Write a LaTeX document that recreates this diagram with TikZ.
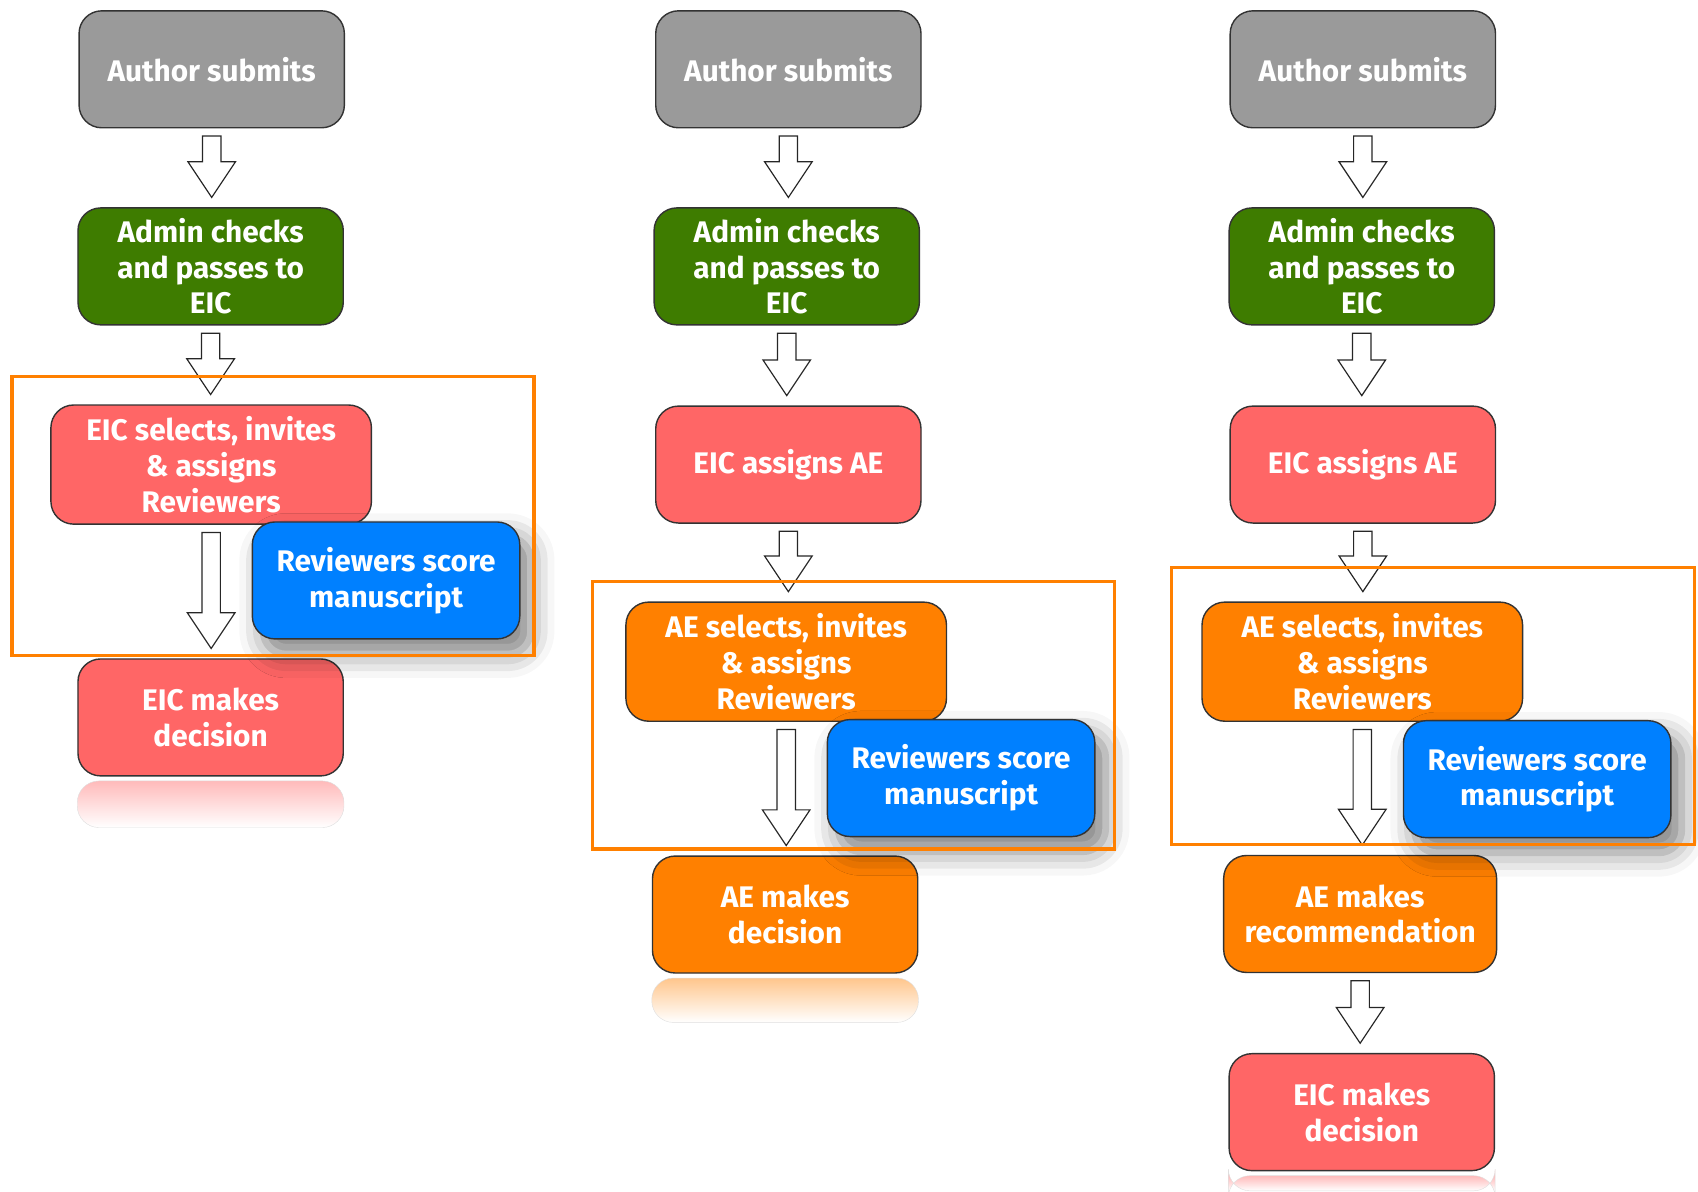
\documentclass[tikz,border=0pt]{standalone}
\usepackage{fontspec}
\setmainfont{Fira Sans}
\usepackage{tikz}
\usetikzlibrary{calc,shadows.blur}
\definecolor{boxgray}{HTML}{9A9A9A}
\definecolor{boxgreen}{HTML}{3E7C00}
\definecolor{boxred}{HTML}{FF6666}
\definecolor{boxorange}{HTML}{FF8000}
\definecolor{boxblue}{HTML}{0080FF}
\definecolor{framecol}{HTML}{FF8000}

% hollow block arrow from one node to the next
\newcommand{\blockarrow}[2]{%
  \draw[blockarr] let \p1=(#1.south), \p2=(#2.north) in
    (\x1-8.5pt,\y1-7pt) -- (\x1+8.5pt,\y1-7pt) -- (\x1+8.5pt,\y2+42pt)
    -- (\x1+22pt,\y2+42pt) -- (\x1,\y2+9pt) -- (\x1-22pt,\y2+42pt)
    -- (\x1-8.5pt,\y2+42pt) -- cycle;}
% faded mirror under the last box
\newcommand{\reflect}[3]{%
  \shade[top color=#2!45!white, bottom color=white, draw=gray!25,
         rounded corners=20pt]
    ($(#1.south west)+(0,-4pt)$) -- ($(#1.south west)+(0,-#3)$)
    -- ($(#1.south east)+(0,-#3)$) -- ($(#1.south east)+(0,-4pt)$) -- cycle;}

\begin{document}
\begin{tikzpicture}[x=1pt, y=-1pt,
  box/.style={draw=black!80, line width=1.3pt, rounded corners=21pt,
              minimum width=245pt, minimum height=108pt, inner sep=0pt,
              text=white, align=center,
              font=\fontsize{27.5}{33}\selectfont\bfseries},
  widebox/.style={box, minimum width=296pt, minimum height=110pt},
  revbox/.style={box, fill=boxblue, minimum width=247pt,
                 blur shadow={shadow xshift=10pt, shadow yshift=-14pt,
                              shadow blur radius=22pt, shadow opacity=50}},
  blockarr/.style={draw=black!85, fill=white, line width=1.1pt,
                   line join=miter},
  frame/.style={draw=framecol, line width=3pt},
]
  \useasboundingbox (0,0) rectangle (1568,1100);

  % Column 1: EIC handles everything
  \node[box, fill=boxgray] (sub1) at (195.5,64) {Author submits};
  \node[box, fill=boxgreen] (adm1) at (194.5,246) {Admin checks\\and passes to\\EIC};
  \node[widebox, fill=boxred] (sel1) at (195,429) {EIC selects, invites\\\& assigns\\Reviewers};
  \node[box, fill=boxred] (dec1) at (194.5,662.5) {EIC makes\\decision};
  \blockarrow{sub1}{adm1}
  \blockarrow{adm1}{sel1}
  \blockarrow{sel1}{dec1}
  \node[revbox] (rev1) at (356.5,536) {Reviewers score\\manuscript};
  \reflect{dec1}{boxred}{47pt}
  \draw[frame] (11,348) rectangle (493,605);

  % Column 2: AE decides
  \node[box, fill=boxgray] (sub2) at (728,64) {Author submits};
  \node[box, fill=boxgreen] (adm2) at (726.5,246) {Admin checks\\and passes to\\EIC};
  \node[box, fill=boxred] (eic2) at (728,429) {EIC assigns AE};
  \node[widebox, fill=boxorange] (sel2) at (726,611) {AE selects, invites\\\& assigns\\Reviewers};
  \node[box, fill=boxorange] (dec2) at (725,844.5) {AE makes\\decision};
  \blockarrow{sub2}{adm2}
  \blockarrow{adm2}{eic2}
  \blockarrow{eic2}{sel2}
  \blockarrow{sel2}{dec2}
  \node[revbox] (rev2) at (887.5,718.5) {Reviewers score\\manuscript};
  \reflect{dec2}{boxorange}{45pt}
  \draw[frame] (547,537) rectangle (1029,784);

  % Column 3: AE recommends, EIC decides
  \node[box, fill=boxgray] (sub3) at (1258.5,64) {Author submits};
  \node[box, fill=boxgreen] (adm3) at (1257.5,246) {Admin checks\\and passes to\\EIC};
  \node[box, fill=boxred] (eic3) at (1258.5,429) {EIC assigns AE};
  \node[widebox, fill=boxorange] (sel3) at (1258,611) {AE selects, invites\\\& assigns\\Reviewers};
  \node[box, fill=boxorange, minimum width=252pt] (rec3) at (1256,844) {AE makes\\recommendation};
  \node[box, fill=boxred] (dec3) at (1257.5,1027) {EIC makes\\decision};
  \blockarrow{sub3}{adm3}
  \blockarrow{adm3}{eic3}
  \blockarrow{eic3}{sel3}
  \blockarrow{sel3}{rec3}
  \blockarrow{rec3}{dec3}
  \node[revbox] (rev3) at (1419.5,719.5) {Reviewers score\\manuscript};
  \reflect{dec3}{boxred}{18pt}
  \draw[frame] (1082,524) rectangle (1565,780);
\end{tikzpicture}
\end{document}
